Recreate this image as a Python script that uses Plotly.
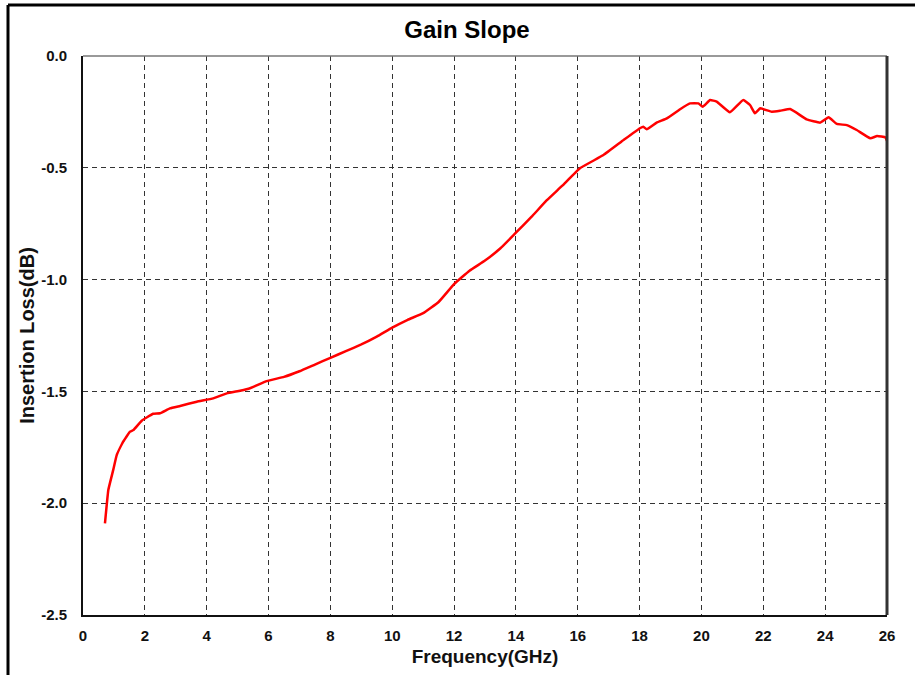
import plotly.graph_objects as go

freq_ghz = [0.71, 0.82, 0.98, 1.09, 1.30, 1.52, 1.63, 1.90, 2.27, 2.49, 2.81, 3.14, 3.68, 4.21,
            4.65, 5.08, 5.40, 5.94, 6.5, 7.0, 7.5, 8.0, 8.5, 9.0, 9.5, 10.0, 10.5, 11.0, 11.5,
            12.0, 12.5, 13.0, 13.5, 14.0, 14.5, 15.0, 15.5, 16.07, 16.83, 17.48, 18.01, 18.12,
            18.23, 18.55, 18.88, 19.31, 19.63, 19.90, 20.04, 20.28, 20.49, 20.92, 21.35, 21.57,
            21.73, 21.90, 22.27, 22.54, 22.87, 23.40, 23.84, 24.11, 24.38, 24.70, 25.02, 25.46,
            25.68, 25.95, 26.0]
loss_db = [-2.09, -1.94, -1.85, -1.785, -1.725, -1.68, -1.673, -1.631, -1.60, -1.598, -1.576,
           -1.565, -1.546, -1.531, -1.509, -1.497, -1.486, -1.454, -1.435, -1.41, -1.38, -1.35,
           -1.32, -1.29, -1.255, -1.215, -1.18, -1.15, -1.10, -1.02, -0.96, -0.915, -0.86,
           -0.79, -0.72, -0.645, -0.58, -0.502, -0.443, -0.376, -0.323, -0.316, -0.328, -0.298,
           -0.279, -0.238, -0.212, -0.212, -0.227, -0.197, -0.204, -0.252, -0.197, -0.219,
           -0.256, -0.234, -0.249, -0.245, -0.237, -0.283, -0.298, -0.274, -0.304, -0.309,
           -0.331, -0.368, -0.358, -0.364, -0.379]

x_ticks = list(range(0, 27, 2))
y_ticks = [0.0, -0.5, -1.0, -1.5, -2.0, -2.5]
y_tick_labels = ["0.0", "-0.5", "-1.0", "-1.5", "-2.0", "-2.5"]

FONT = "Liberation Sans, Arial, sans-serif"

fig = go.Figure()
fig.add_trace(go.Scatter(x=freq_ghz, y=loss_db, mode="lines",
                         line=dict(color="#ff0000", width=2.5, shape="spline", smoothing=0.3),
                         showlegend=False))

fig.update_layout(
    width=915, height=675,
    margin=dict(l=83, r=28, t=56, b=60),
    paper_bgcolor="white", plot_bgcolor="white",
    font=dict(family=FONT, color="#111"),
    title=dict(text="<b>Gain Slope</b>", x=0.4776, xref="paper", xanchor="center",
               y=1 - 30 / 675, yanchor="middle", font=dict(size=24, color="#000")),
    xaxis=dict(range=[0, 26], tickvals=x_ticks, ticktext=[f"<b>{v}</b>" for v in x_ticks],
               showgrid=True, gridcolor="#333", gridwidth=1, griddash="5px,4px",
               showline=True, linecolor="#111", linewidth=2, ticks="", zeroline=False,
               ticklabelstandoff=6,
               tickfont=dict(size=15, color="#111"),
               title=dict(text="<b>Frequency(GHz)</b>", font=dict(size=19, color="#111"), standoff=7)),
    yaxis=dict(range=[-2.5, 0], tickvals=y_ticks, ticktext=[f"<b>{t}</b>" for t in y_tick_labels],
               showgrid=True, gridcolor="#333", gridwidth=1, griddash="5px,4px",
               showline=True, linecolor="#111", linewidth=2, ticks="", zeroline=False,
               ticklabelstandoff=11,
               tickfont=dict(size=15, color="#111"),
               title=dict(text="<b>Insertion Loss(dB)</b>", font=dict(size=20, color="#111"), standoff=1)),
)

# plot box top (thin gray) and right (thick dark) edges
fig.add_shape(type="line", xref="paper", yref="paper", x0=0, x1=1, y0=1, y1=1,
              line=dict(color="#777", width=1.5))
fig.add_shape(type="line", xref="paper", yref="paper", x0=1, x1=1, y0=0, y1=1,
              line=dict(color="#333", width=3))

# outer frame (left and top visible)
fx = (8 - 83) / 804
fy = 1 + (56 - 5) / 559
fig.add_shape(type="line", xref="paper", yref="paper", x0=fx, x1=fx, y0=-0.2, y1=fy,
              line=dict(color="#000", width=3))
fig.add_shape(type="line", xref="paper", yref="paper", x0=fx, x1=1.2, y0=fy, y1=fy,
              line=dict(color="#000", width=3))

fig.write_html("out.html", config={"displayModeBar": False},
               post_script="document.body.style.margin='0';")
